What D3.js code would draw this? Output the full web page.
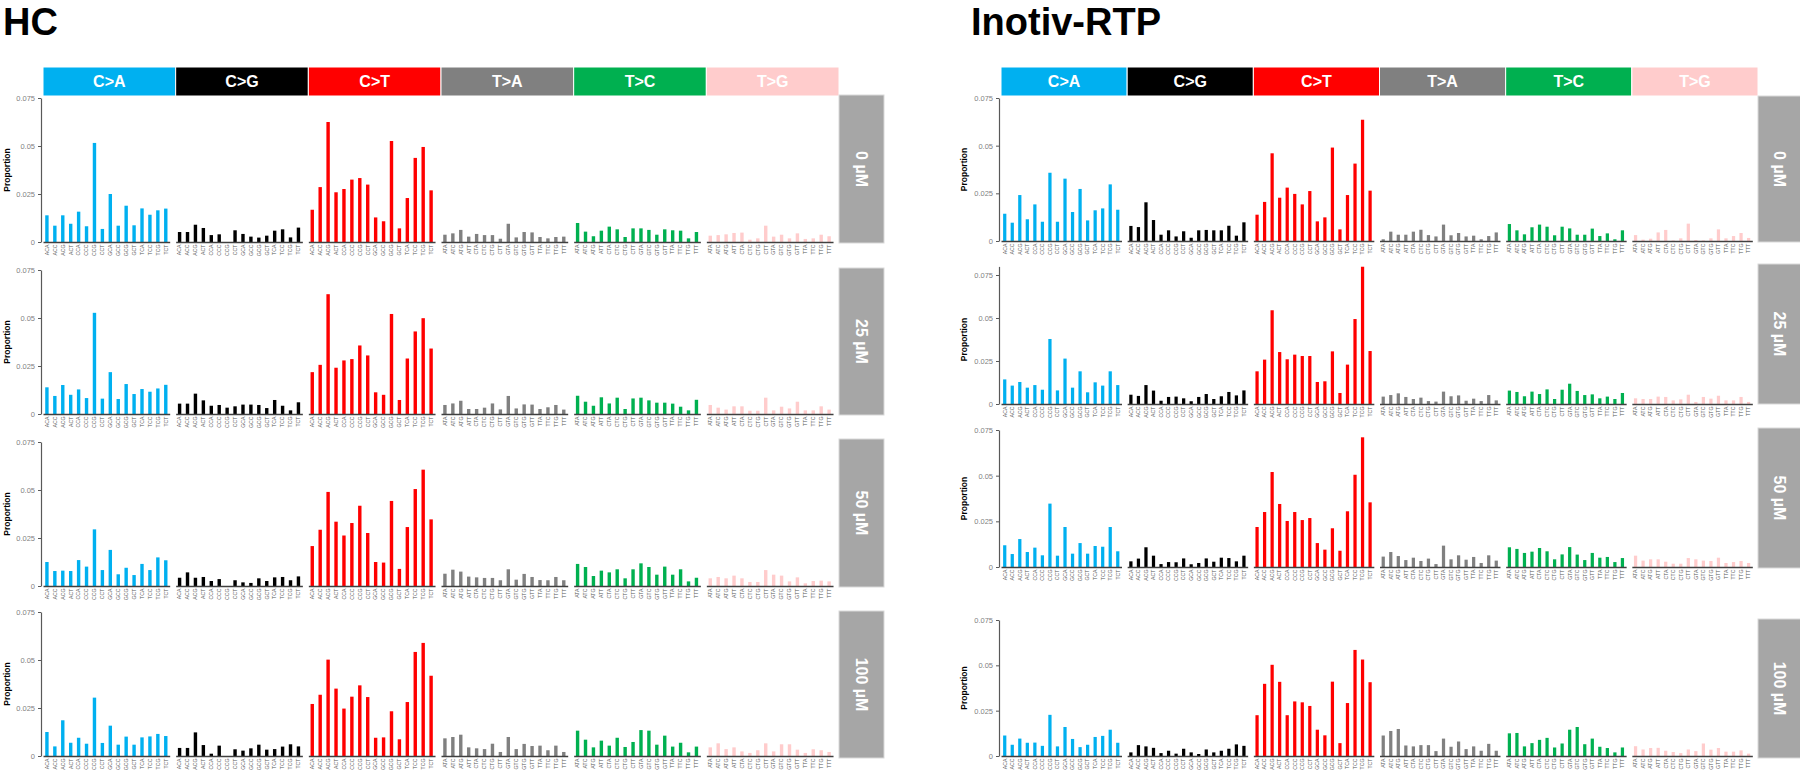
<!DOCTYPE html>
<html>
<head>
<meta charset="utf-8">
<script src="https://cdnjs.cloudflare.com/ajax/libs/d3/7.8.5/d3.min.js"></script>
<style>
html,body{margin:0;padding:0;background:#fff;}
svg{display:block;font-family:"Liberation Sans",Arial,sans-serif;}
</style>
</head>
<body>
<svg id="chart" width="1800" height="771"></svg>
<script>
// ---------------- data ----------------
const mutationTypes = ["C>A","C>G","C>T","T>A","T>C","T>G"];
const typeColors = ["#00B0F0","#000000","#FF0000","#808080","#00B050","#FFCCCC"];
const cContexts = ["ACA","ACC","ACG","ACT","CCA","CCC","CCG","CCT","GCA","GCC","GCG","GCT","TCA","TCC","TCG","TCT"];
const tContexts = ["ATA","ATC","ATG","ATT","CTA","CTC","CTG","CTT","GTA","GTC","GTG","GTT","TTA","TTC","TTG","TTT"];
const doseLabels = ["0 µM","25 µM","50 µM","100 µM"];
const sideTitles = ["HC","Inotiv-RTP"];
const yTicks = [0,0.025,0.05,0.075];

// each array: 96 values, order C>A, C>G, C>T, T>A, T>C, T>G (16 contexts each)
const hc_0 = [
0.0139,0.0085,0.0139,0.0095,0.0158,0.0082,0.0516,0.0068,0.0250,0.0085,0.0189,0.0087,0.0175,0.0142,0.0165,0.0174,
0.0052,0.0052,0.0090,0.0073,0.0036,0.0040,0.0000,0.0061,0.0042,0.0028,0.0023,0.0033,0.0059,0.0066,0.0024,0.0075,
0.0168,0.0286,0.0625,0.0259,0.0276,0.0325,0.0333,0.0299,0.0128,0.0108,0.0526,0.0071,0.0229,0.0438,0.0495,0.0269,
0.0038,0.0045,0.0063,0.0028,0.0042,0.0036,0.0036,0.0017,0.0095,0.0024,0.0052,0.0050,0.0026,0.0019,0.0026,0.0028,
0.0099,0.0054,0.0030,0.0059,0.0080,0.0066,0.0026,0.0071,0.0071,0.0063,0.0038,0.0066,0.0061,0.0059,0.0019,0.0052,
0.0033,0.0036,0.0040,0.0047,0.0049,0.0012,0.0019,0.0085,0.0028,0.0038,0.0019,0.0045,0.0016,0.0019,0.0038,0.0030];
const hc_25 = [
0.0139,0.0094,0.0151,0.0100,0.0128,0.0083,0.0527,0.0080,0.0218,0.0078,0.0156,0.0104,0.0130,0.0116,0.0133,0.0152,
0.0054,0.0054,0.0106,0.0071,0.0043,0.0047,0.0033,0.0040,0.0049,0.0049,0.0047,0.0031,0.0073,0.0043,0.0019,0.0061,
0.0218,0.0256,0.0624,0.0241,0.0279,0.0286,0.0357,0.0305,0.0113,0.0100,0.0521,0.0073,0.0289,0.0430,0.0499,0.0341,
0.0047,0.0055,0.0069,0.0026,0.0026,0.0033,0.0055,0.0024,0.0094,0.0029,0.0050,0.0049,0.0026,0.0035,0.0047,0.0023,
0.0095,0.0064,0.0043,0.0087,0.0055,0.0085,0.0026,0.0081,0.0085,0.0071,0.0059,0.0059,0.0054,0.0038,0.0019,0.0074,
0.0047,0.0033,0.0023,0.0040,0.0040,0.0017,0.0017,0.0085,0.0019,0.0038,0.0029,0.0064,0.0019,0.0019,0.0040,0.0023];
const hc_50 = [
0.0125,0.0078,0.0080,0.0078,0.0135,0.0101,0.0295,0.0083,0.0188,0.0061,0.0095,0.0057,0.0115,0.0083,0.0149,0.0134,
0.0043,0.0071,0.0043,0.0047,0.0026,0.0036,0.0000,0.0030,0.0019,0.0016,0.0040,0.0026,0.0045,0.0047,0.0030,0.0050,
0.0208,0.0293,0.0490,0.0335,0.0263,0.0328,0.0418,0.0276,0.0125,0.0122,0.0443,0.0089,0.0307,0.0505,0.0606,0.0347,
0.0064,0.0085,0.0075,0.0049,0.0045,0.0042,0.0042,0.0030,0.0087,0.0033,0.0063,0.0047,0.0031,0.0030,0.0047,0.0030,
0.0115,0.0099,0.0052,0.0080,0.0071,0.0087,0.0040,0.0087,0.0118,0.0099,0.0059,0.0101,0.0059,0.0087,0.0024,0.0043,
0.0040,0.0047,0.0040,0.0054,0.0040,0.0021,0.0021,0.0083,0.0059,0.0054,0.0024,0.0045,0.0014,0.0026,0.0028,0.0024];
const hc_100 = [
0.0125,0.0050,0.0186,0.0069,0.0095,0.0064,0.0304,0.0068,0.0158,0.0059,0.0101,0.0059,0.0097,0.0102,0.0115,0.0104,
0.0042,0.0042,0.0123,0.0057,0.0012,0.0054,0.0000,0.0035,0.0028,0.0040,0.0059,0.0033,0.0036,0.0049,0.0061,0.0050,
0.0271,0.0319,0.0502,0.0351,0.0247,0.0309,0.0368,0.0307,0.0095,0.0097,0.0233,0.0087,0.0281,0.0542,0.0589,0.0418,
0.0092,0.0099,0.0111,0.0045,0.0040,0.0036,0.0064,0.0021,0.0099,0.0036,0.0063,0.0052,0.0054,0.0030,0.0054,0.0021,
0.0132,0.0085,0.0045,0.0080,0.0054,0.0095,0.0047,0.0073,0.0135,0.0132,0.0059,0.0106,0.0049,0.0069,0.0019,0.0049,
0.0045,0.0066,0.0036,0.0045,0.0024,0.0016,0.0030,0.0066,0.0024,0.0061,0.0061,0.0033,0.0016,0.0035,0.0030,0.0021];
const rtp_0 = [
0.0143,0.0096,0.0241,0.0114,0.0192,0.0101,0.0358,0.0101,0.0327,0.0152,0.0273,0.0108,0.0161,0.0171,0.0297,0.0164,
0.0079,0.0073,0.0203,0.0110,0.0033,0.0056,0.0024,0.0051,0.0017,0.0056,0.0058,0.0056,0.0056,0.0080,0.0028,0.0098,
0.0138,0.0205,0.0460,0.0227,0.0280,0.0247,0.0192,0.0262,0.0103,0.0124,0.0490,0.0061,0.0241,0.0406,0.0636,0.0264,
0.0009,0.0049,0.0033,0.0033,0.0049,0.0059,0.0031,0.0024,0.0086,0.0030,0.0042,0.0024,0.0028,0.0009,0.0026,0.0045,
0.0089,0.0056,0.0035,0.0072,0.0086,0.0075,0.0030,0.0075,0.0066,0.0033,0.0033,0.0065,0.0026,0.0040,0.0009,0.0056,
0.0031,0.0007,0.0012,0.0045,0.0058,0.0003,0.0014,0.0091,0.0005,0.0003,0.0014,0.0061,0.0014,0.0026,0.0042,0.0016];
const rtp_25 = [
0.0143,0.0107,0.0128,0.0095,0.0110,0.0083,0.0378,0.0079,0.0264,0.0095,0.0190,0.0068,0.0126,0.0107,0.0190,0.0110,
0.0054,0.0047,0.0110,0.0078,0.0019,0.0041,0.0043,0.0033,0.0016,0.0041,0.0058,0.0029,0.0045,0.0070,0.0050,0.0079,
0.0190,0.0258,0.0545,0.0302,0.0260,0.0287,0.0279,0.0279,0.0128,0.0132,0.0306,0.0064,0.0229,0.0494,0.0798,0.0308,
0.0043,0.0052,0.0062,0.0041,0.0029,0.0037,0.0017,0.0014,0.0072,0.0045,0.0050,0.0019,0.0031,0.0017,0.0052,0.0021,
0.0078,0.0070,0.0045,0.0072,0.0058,0.0085,0.0029,0.0083,0.0118,0.0076,0.0052,0.0056,0.0033,0.0043,0.0029,0.0064,
0.0033,0.0029,0.0029,0.0043,0.0041,0.0021,0.0027,0.0054,0.0012,0.0041,0.0031,0.0048,0.0021,0.0021,0.0041,0.0012];
const rtp_50 = [
0.0119,0.0071,0.0153,0.0082,0.0106,0.0064,0.0347,0.0062,0.0219,0.0073,0.0131,0.0073,0.0115,0.0111,0.0219,0.0086,
0.0031,0.0046,0.0108,0.0062,0.0016,0.0027,0.0026,0.0047,0.0015,0.0022,0.0047,0.0029,0.0051,0.0049,0.0031,0.0062,
0.0219,0.0301,0.0520,0.0345,0.0252,0.0301,0.0257,0.0268,0.0131,0.0095,0.0212,0.0089,0.0305,0.0505,0.0710,0.0354,
0.0057,0.0082,0.0060,0.0038,0.0051,0.0033,0.0046,0.0016,0.0117,0.0042,0.0064,0.0040,0.0055,0.0022,0.0064,0.0035,
0.0108,0.0099,0.0077,0.0084,0.0104,0.0086,0.0042,0.0069,0.0109,0.0068,0.0038,0.0077,0.0051,0.0055,0.0027,0.0049,
0.0062,0.0035,0.0042,0.0042,0.0029,0.0018,0.0018,0.0049,0.0042,0.0035,0.0033,0.0051,0.0022,0.0027,0.0033,0.0022];
const rtp_100 = [
0.0113,0.0062,0.0096,0.0073,0.0074,0.0056,0.0227,0.0053,0.0160,0.0094,0.0049,0.0062,0.0105,0.0111,0.0145,0.0073,
0.0020,0.0060,0.0053,0.0045,0.0016,0.0029,0.0013,0.0040,0.0020,0.0011,0.0036,0.0020,0.0029,0.0040,0.0064,0.0056,
0.0225,0.0398,0.0503,0.0409,0.0225,0.0301,0.0296,0.0276,0.0145,0.0114,0.0410,0.0071,0.0292,0.0585,0.0532,0.0407,
0.0113,0.0138,0.0149,0.0058,0.0053,0.0060,0.0060,0.0027,0.0096,0.0051,0.0080,0.0038,0.0053,0.0029,0.0067,0.0029,
0.0125,0.0127,0.0053,0.0071,0.0089,0.0100,0.0047,0.0069,0.0145,0.0160,0.0065,0.0096,0.0051,0.0044,0.0020,0.0047,
0.0054,0.0036,0.0044,0.0045,0.0029,0.0022,0.0016,0.0036,0.0027,0.0069,0.0035,0.0044,0.0024,0.0024,0.0031,0.0013];

const sideData = [[hc_0,hc_25,hc_50,hc_100],[rtp_0,rtp_25,rtp_50,rtp_100]];
const axisTops = [[0.075,0.075,0.075,0.075],[0.075,0.08,0.075,0.075]];

// ---------------- layout ----------------
const layout = [
  { titleX: 3, axisX: 41, hdrX0: 43, hdrX1: 839, lblX: 839, lblW: 45, propX: 7,
    rows: [ {y0:242, y1:98,  b0:95,  b1:243},
            {y0:414, y1:270, b0:268, b1:415},
            {y0:586, y1:442, b0:439, b1:587},
            {y0:756, y1:612, b0:611, b1:758} ] },
  { titleX: 971, axisX: 999, hdrX0: 1001, hdrX1: 1758, lblX: 1758, lblW: 44, propX: 964,
    rows: [ {y0:241, y1:98,  b0:96,  b1:242},
            {y0:404, y1:275, b0:264, b1:404},
            {y0:567, y1:430, b0:428, b1:568},
            {y0:756, y1:620, b0:619, b1:758} ] }
];
const hdrY0 = 67, hdrY1 = 96;

const svg = d3.select("#chart");

layout.forEach((L, s) => {
  const g = svg.append("g");
  // title
  g.append("text").attr("x", L.titleX).attr("y", 35)
    .attr("font-size", 38).attr("font-weight", "bold").attr("fill", "#000")
    .text(sideTitles[s]);

  const groupW = (L.hdrX1 - L.hdrX0) / mutationTypes.length;
  const gx = d3.scaleBand().domain(mutationTypes).range([L.hdrX0, L.hdrX1]).padding(0);

  // header boxes
  const hdr = g.selectAll("g.hdr").data(mutationTypes).join("g").attr("class","hdr");
  hdr.append("rect")
    .attr("x", d => gx(d)).attr("y", hdrY0)
    .attr("width", gx.bandwidth()).attr("height", hdrY1 - hdrY0)
    .attr("fill", (d,i) => typeColors[i]).attr("stroke", "#fff").attr("stroke-width", 1);
  hdr.append("text")
    .attr("x", d => gx(d) + gx.bandwidth()/2).attr("y", (hdrY0+hdrY1)/2)
    .attr("dy", "0.36em").attr("text-anchor", "middle")
    .attr("font-size", 16).attr("font-weight", "bold").attr("fill", "#fff")
    .text(d => d);

  L.rows.forEach((R, r) => {
    const top = axisTops[s][r];
    const pxPerUnit = (R.y0 - R.y1) / 0.075;
    const y = d3.scaleLinear().domain([0, top]).range([R.y0, R.y0 - pxPerUnit * top]);
    const data = sideData[s][r];
    const rg = g.append("g");

    // y axis
    const ya = rg.append("g").attr("transform", `translate(${L.axisX},0)`)
      .call(d3.axisLeft(y).tickValues(yTicks).tickSizeInner(3).tickSizeOuter(0).tickPadding(3)
        .tickFormat(d => d === 0 ? "0" : String(d)));
    ya.select(".domain").attr("stroke", "#595959").attr("stroke-width", 1.2);
    ya.selectAll(".tick line").attr("stroke", "#595959");
    ya.selectAll(".tick text").attr("font-size", 7.5).attr("fill", "#7f7f7f")
      .attr("font-family", "'Liberation Sans Narrow','Liberation Sans',Arial,sans-serif");

    // Proportion label
    rg.append("text")
      .attr("transform", `translate(${L.propX},${(R.y0 + R.y1)/2}) rotate(-90)`)
      .attr("text-anchor", "middle").attr("dy", "0.35em")
      .attr("font-size", 8.5).attr("font-weight", "bold").attr("fill", "#000")
      .text("Proportion");

    // groups
    mutationTypes.forEach((mt, t) => {
      const ctx = t < 3 ? cContexts : tContexts;
      const vals = data.slice(t*16, t*16 + 16);
      const x0 = gx(mt);
      const x = d3.scaleBand().domain(ctx).range([x0, x0 + groupW * 0.955])
        .paddingInner(0.57).paddingOuter(0.28);
      const gg = rg.append("g");
      gg.selectAll("rect").data(vals).join("rect")
        .attr("x", (d,i) => x(ctx[i]))
        .attr("y", d => y(d))
        .attr("width", x.bandwidth())
        .attr("height", d => y(0) - y(d))
        .attr("fill", typeColors[t]);
      const xa = gg.append("g").attr("transform", `translate(0,${R.y0})`)
        .call(d3.axisBottom(x).tickSizeInner(0).tickSizeOuter(0));
      xa.select(".domain").attr("stroke", "#404040").attr("stroke-width", 1.6);
      xa.selectAll(".tick text")
        .attr("transform", "rotate(-90)")
        .attr("x", -2.5).attr("y", 0).attr("dy", "0.35em")
        .attr("text-anchor", "end")
        .attr("font-size", 5.2).attr("fill", "#595959");
    });

    // dose label box
    rg.append("rect").attr("x", L.lblX).attr("y", R.b0)
      .attr("width", L.lblW).attr("height", R.b1 - R.b0)
      .attr("fill", "#A6A6A6").attr("stroke", "#d9d9d9").attr("stroke-width", 1);
    rg.append("text")
      .attr("transform", `translate(${L.lblX + L.lblW/2},${(R.b0 + R.b1)/2}) rotate(90)`)
      .attr("text-anchor", "middle").attr("dy", "0.36em")
      .attr("font-size", 16).attr("font-weight", "bold").attr("fill", "#fff")
      .text(doseLabels[r]);
  });
});
</script>
</body>
</html>
